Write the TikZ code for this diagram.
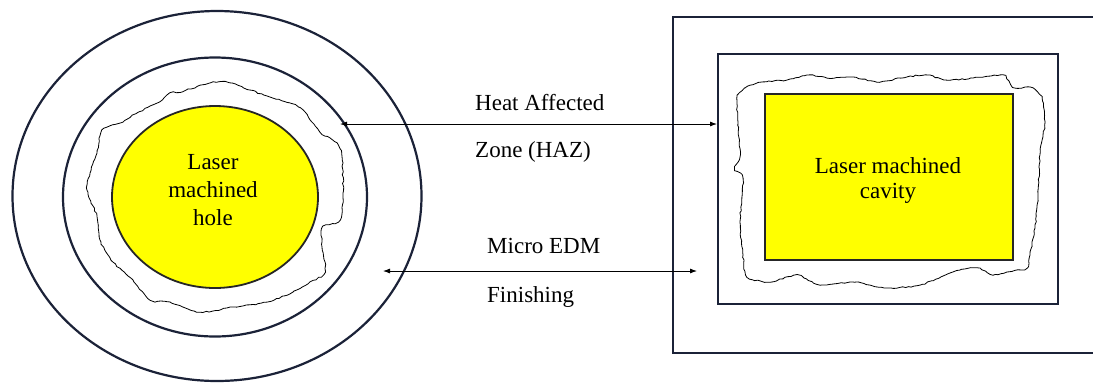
\documentclass[tikz,border=0pt]{standalone}
\usepackage{fontspec}
\setmainfont{Liberation Serif}
\newfontfamily\tnr{Liberation Serif}
\usetikzlibrary{shapes.geometric,arrows.meta,decorations.pathmorphing}
\definecolor{navy}{HTML}{1B2238}
\definecolor{hy}{HTML}{FFFF00}
\begin{document}
\begin{tikzpicture}[x=1pt,y=-1pt,
  ring/.style={draw=navy,line width=2.2pt},
  hole/.style={draw=black!85,line width=1.8pt,fill=hy},
  hazline/.style={draw=black,line width=0.8pt,decorate,decoration={random steps,segment length=3pt,amplitude=0.7pt}},
  conn/.style={{Latex[length=7pt,width=5pt]}-{Latex[length=7pt,width=5pt]},line width=0.8pt},
  lbl/.style={font=\tnr\fontsize{23}{28}\selectfont,inner sep=0pt}]
\useasboundingbox (0,0) rectangle (1093,384);
\clip (0,0) rectangle (1093,384);
\fill[white] (0,0) rectangle (1093,384);
% left: hole
\node[ring,ellipse,minimum width=409pt,minimum height=370pt] (outer) at (217,196) {};
\node[ring,ellipse,minimum width=304pt,minimum height=279pt] (mid) at (215,197) {};
\draw[hazline] plot[smooth cycle,tension=0.5] coordinates {
 (180,92) (210,83) (227,82) (250,90) (270,97) (290,103) (303,110) (320,132) (337,143)
 (342,157) (343,193) (340,220) (323,227) (322,247) (325,272) (310,282) (293,292)
 (267,302) (233,307) (200,312) (170,302) (150,300) (133,280) (113,262) (100,240)
 (97,217) (87,190) (90,173) (97,153) (102,130) (120,123) (137,113) (157,103) (170,93)};
\node[hole,ellipse,minimum width=206pt,minimum height=182pt] (hole) at (215,197) {};
\node[lbl,align=center] (holelbl) at (213,190) {Laser\\machined\\hole};
% right: cavity
\node[ring,rectangle,minimum width=460pt,minimum height=336pt,anchor=north west] (plate) at (672,16) {};
\node[ring,rectangle,minimum width=340pt,minimum height=250pt,anchor=north west] (inner) at (717,53) {};
\draw[hazline] plot[smooth cycle,tension=0.4] coordinates {
 (737,98) (745,88) (763,82) (787,80) (810,75) (827,78) (853,77) (877,82) (907,77)
 (927,75) (947,80) (973,78) (1003,75) (1013,87) (1033,88) (1042,98) (1045,122)
 (1040,155) (1038,195) (1035,228) (1030,255) (1027,268) (1007,272) (993,275)
 (977,268) (953,272) (920,285) (887,288) (853,282) (820,285) (797,275) (770,282)
 (747,277) (743,255) (740,222) (743,178) (735,170) (740,155) (738,122)};
\node[hole,rectangle,minimum width=248pt,minimum height=166pt,anchor=north west] (cav) at (764,93) {};
\node[lbl,align=center,font=\tnr\fontsize{23}{25}\selectfont] (cavlbl) at (888,180) {Laser machined\\cavity};
% connectors
\coordinate (hazL) at (340,124);
\coordinate (hazR) at (717,124);
\coordinate (edmL) at (383,271);
\coordinate (edmR) at (697,271);
\draw[conn] (hazL) -- (hazR);
\draw[conn] (edmL) -- (edmR);
% labels
\node[lbl,anchor=west] (t1) at (475,103) {Heat Affected};
\node[lbl,anchor=west] (t2) at (475,152) {Zone (HAZ)};
\node[lbl,anchor=west] (t3) at (487,246) {Micro EDM};
\node[lbl,anchor=west] (t4) at (487,297) {Finishing};
\end{tikzpicture}
\end{document}
